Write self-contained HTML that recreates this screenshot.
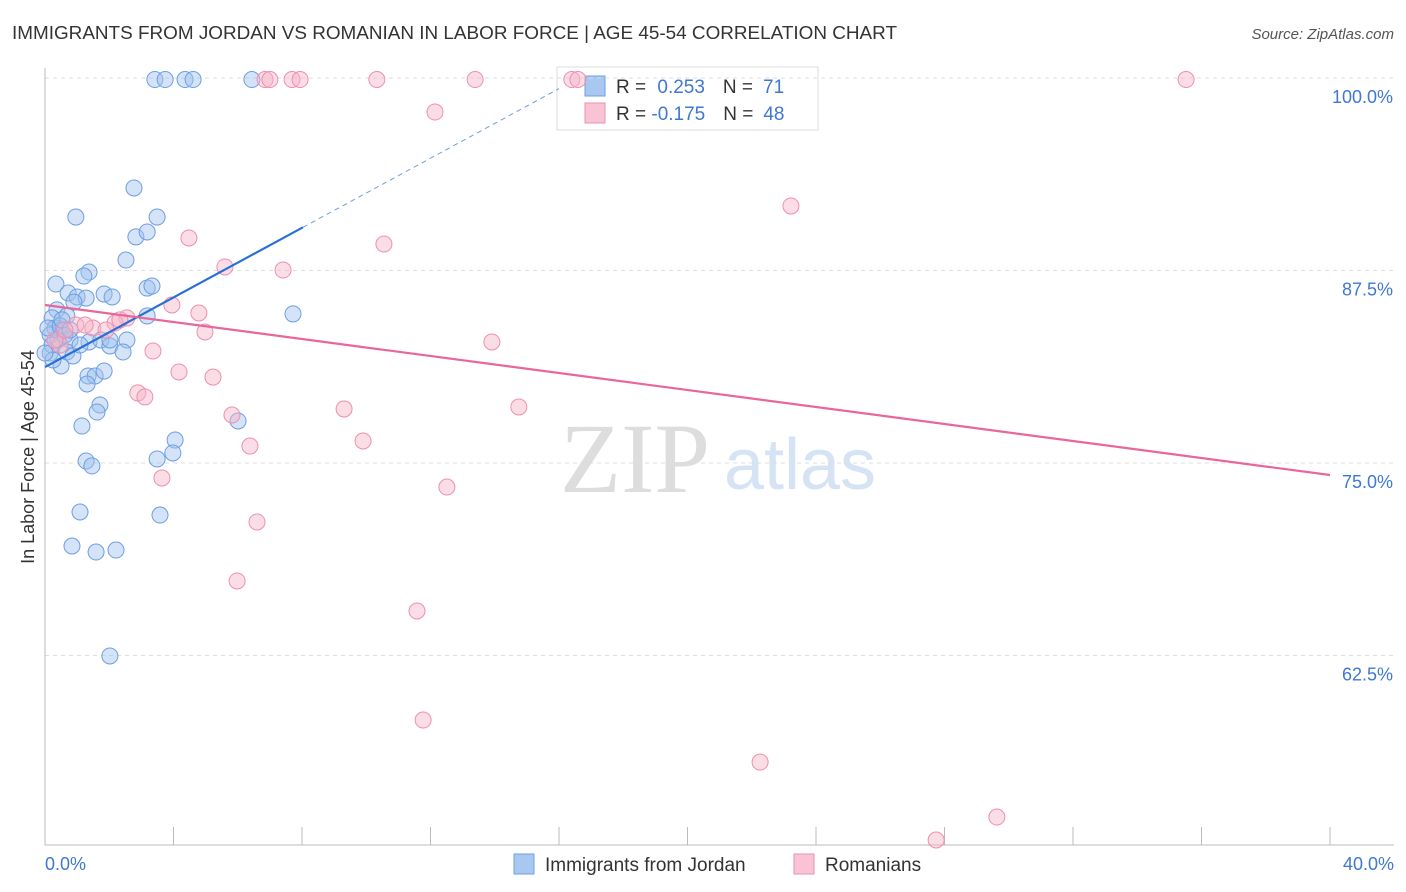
<!DOCTYPE html>
<html><head><meta charset="utf-8"><style>
body{margin:0;background:#fff;font-family:"Liberation Sans",sans-serif;}
svg{display:block}
</style></head><body>
<svg id="chart" width="1406" height="892">
<text x="12" y="39" font-size="18" fill="#333" textLength="885" lengthAdjust="spacingAndGlyphs">IMMIGRANTS FROM JORDAN VS ROMANIAN IN LABOR FORCE | AGE 45-54 CORRELATION CHART</text>
<text x="1394" y="39" font-size="15" fill="#555" font-style="italic" text-anchor="end">Source: ZipAtlas.com</text>
<text x="635" y="492" font-size="100" fill="#ddd" font-family="Liberation Serif,serif" text-anchor="middle">ZIP</text>
<text x="800" y="489" font-size="72" fill="#d6e3f5" text-anchor="middle">atlas</text>
<text transform="translate(34,457) rotate(-90)" font-size="18" fill="#333" text-anchor="middle">In Labor Force | Age 45-54</text>
<g>
<rect x="557" y="67" width="261" height="63" fill="#fff" stroke="#ddd"/>
<rect x="585" y="76" width="20" height="20" fill="#a9c8f0" stroke="#6d9fe0"/>
<rect x="585" y="103" width="20" height="20" fill="#f8c3d4" stroke="#ee8fb0"/>
<text x="616" y="93" font-size="19" fill="#333">R = <tspan fill="#3f78d1" dx="6">0.253</tspan><tspan dx="18" fill="#333">N =</tspan><tspan dx="10" fill="#3f78d1">71</tspan></text>
<text x="616" y="120" font-size="19" fill="#333">R = <tspan fill="#3f78d1">-0.175</tspan><tspan dx="18" fill="#333">N =</tspan><tspan dx="10" fill="#3f78d1">48</tspan></text>
</g>
<g id="grid"></g><g id="marks"></g>
<g>
<rect x="514" y="854" width="20" height="20" fill="#a9c8f0" stroke="#6d9fe0"/>
<text x="545" y="871" font-size="19" fill="#333">Immigrants from Jordan</text>
<rect x="794" y="854" width="20" height="20" fill="#f8c3d4" stroke="#ee8fb0"/>
<text x="825" y="871" font-size="19" fill="#333">Romanians</text>
</g>
</svg>
<script>
const yTicks=[100,87.5,75,62.5];
const yTickLabels=["100.0%","87.5%","75.0%","62.5%"];
const xTicks=[0,4,8,12,16,20,24,28,32,36,40];
const xEndLabels=["0.0%","40.0%"];
const jordanX=[3.42,3.74,4.36,4.61,6.44,2.77,0.96,3.49,2.83,3.18,2.52,1.37,1.21,0.34,3.18,3.33,0.72,1.00,1.28,1.84,2.09,0.90,0.37,0.68,0.22,3.18,7.72,0.31,0.50,0.16,0.40,0.78,1.37,1.74,2.02,2.55,2.43,2.02,0.68,0.87,0.16,0.50,1.34,1.56,1.84,1.31,1.71,1.62,1.15,6.01,4.05,3.98,3.49,1.28,1.46,1.09,3.58,0.84,1.59,2.21,2.02,0.09,0.22,0.47,0.62,1.09,0.25,0.0,0.53,0.78];
const jordanY=[99.9,99.9,99.9,99.9,99.9,92.86,90.97,90.97,89.68,90.0,88.18,87.40,87.14,86.62,86.36,86.49,86.04,85.78,85.71,85.97,85.78,85.45,84.94,84.55,84.42,84.55,84.68,83.77,83.64,83.31,82.99,82.99,82.86,82.99,82.60,82.99,82.21,82.99,82.21,81.95,82.14,81.30,80.65,80.65,80.97,80.13,78.77,78.31,77.40,77.73,76.49,75.65,75.26,75.13,74.81,71.82,71.62,69.61,69.22,69.35,62.47,83.77,82.66,83.90,83.31,82.66,81.69,82.14,84.29,83.64];
const romX=[6.85,7.00,7.69,7.94,10.33,13.39,16.40,16.59,35.52,12.14,23.22,4.48,10.55,5.60,7.41,3.95,4.79,4.98,2.55,2.18,1.49,1.90,0.96,0.47,13.91,3.36,4.17,5.23,2.89,3.11,9.31,14.75,5.82,9.90,6.38,3.64,12.51,6.60,5.98,11.58,11.77,22.26,29.63,27.74,0.31,0.62,1.25,2.33];
const romY=[99.9,99.9,99.9,99.9,99.9,99.9,99.9,99.9,99.9,97.79,91.69,89.61,89.22,87.73,87.53,85.26,84.74,83.51,84.42,84.09,83.77,83.64,83.96,82.66,82.86,82.27,80.91,80.58,79.55,79.29,78.51,78.64,78.12,76.43,76.10,74.03,73.44,71.17,67.34,65.39,58.31,55.58,52.01,50.52,82.99,83.64,83.96,84.29];
const jordanTrend=[81.23,1.13];
const romTrend=[85.26,-0.276];
const X=v=>45+v*32.125, Y=v=>78+(100-v)*15.4;
const NS="http://www.w3.org/2000/svg";
function mk(tag,attrs,parent){const e=document.createElementNS(NS,tag);for(const k in attrs)e.setAttribute(k,attrs[k]);parent.appendChild(e);return e;}
const grid=document.getElementById('grid'),marks=document.getElementById('marks');
yTicks.forEach((t,i)=>{
 const l=mk('line',{x1:45,x2:1394,y1:Y(t),y2:Y(t),stroke:'#ddd','stroke-dasharray':'4,4'},grid);
 
 
 const tx=mk('text',{x:1393,y:Y(t)+25,'font-size':18,fill:'#3f78d1','text-anchor':'end'},grid);
 tx.textContent=yTickLabels[i];
 
 
});
const ax=mk('line',{x1:45,x2:45,y1:68,y2:845,stroke:'#bbb'},grid);


const bx=mk('line',{x1:45,x2:1394,y1:845,y2:845,stroke:'#bbb'},grid);


xTicks.forEach(t=>{
 const l=mk('line',{x1:X(t),x2:X(t),y1:827,y2:845,stroke:'#bbb'},grid);
 
 
});
[[xTicks[0],'start',45],[xTicks[xTicks.length-1],'end',1394]].forEach((d,i)=>{
 const tx=mk('text',{x:d[2],y:870,'font-size':18,fill:'#3f78d1','text-anchor':d[1]},grid);
 tx.textContent=xEndLabels[i];
 
 
});
function pts(xs,ys,fill,stroke,name){
 xs.forEach((x,i)=>{
  const c=mk('circle',{cx:X(x),cy:Y(ys[i]),r:8,fill:fill,'fill-opacity':0.45,stroke:stroke,'stroke-width':1},marks);
  
  
 });
}
pts(jordanX,jordanY,'#9fc0ee','#6d9fe0','jordan-point');
pts(romX,romY,'#f6b3c8','#ee8fb0','romanian-point');
const jEnd=8.03, jDash=16.0;
const jl=mk('line',{x1:X(0),y1:Y(jordanTrend[0]),x2:X(jEnd),y2:Y(jordanTrend[0]+jordanTrend[1]*jEnd),stroke:'#2a6fd6','stroke-width':2.2},marks);


const jd=mk('line',{x1:X(jEnd),y1:Y(jordanTrend[0]+jordanTrend[1]*jEnd),x2:X(jDash),y2:Y(jordanTrend[0]+jordanTrend[1]*jDash),stroke:'#6d9fe0','stroke-width':1,'stroke-dasharray':'5,4'},marks);


const rl=mk('line',{x1:X(0),y1:Y(romTrend[0]),x2:X(40),y2:Y(romTrend[0]+romTrend[1]*40),stroke:'#e8679a','stroke-width':2.2},marks);


</script>
</body></html>
